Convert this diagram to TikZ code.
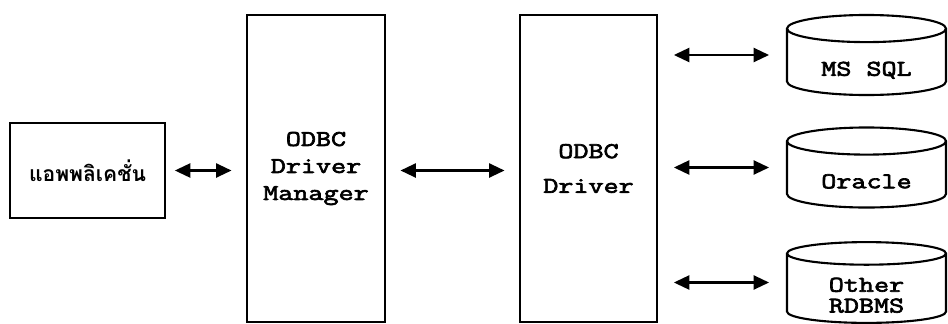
\documentclass[tikz,border=0pt]{standalone}
\usepackage{fontspec}
\newfontfamily\codefont{Latin Modern Mono}[FakeStretch=1.3,FakeBold=3]
\newfontfamily\thaifont[Script=Thai]{Loma}
\usetikzlibrary{shapes.geometric, arrows.meta, positioning}
\tikzset{
	blockbox/.style={draw, line width=2pt, align=center, inner sep=0pt,
		font=\codefont\fontsize{16}{19.2}\selectfont}
}
\tikzset{
	dbshape/.style={draw, cylinder, shape border rotate=90, aspect=0.3,
		line width=1.5pt, align=center, inner sep=0pt, anchor=shape center,
		minimum width=3.975cm, minimum height=2cm,
		font=\codefont\fontsize{16}{17.8}\selectfont}
}
\tikzset{
	link/.style={{Triangle[length=11pt,width=10pt]}-{Triangle[length=11pt,width=10pt]},
		line width=1.6pt}
}
\newcommand{\dbtext}[1]{\raisebox{-6pt}[\height][\depth]{\begin{tabular}{@{}c@{}}#1\end{tabular}}}

\begin{document}
\begin{tikzpicture}[x=0.025cm, y=-0.025cm]
  \useasboundingbox (0,0) rectangle (948,323);
  % boxes
  \node[blockbox, minimum width=3.875cm, minimum height=2.375cm,
    font=\thaifont\bfseries\fontsize{15}{18}\selectfont] (app) at (87.5,170.5) {แอพพลิเคชั่น};
  \node[blockbox, minimum width=3.45cm, minimum height=7.675cm] (mgr) at (316,168.5)
    {ODBC\\Driver\\Manager};
  \node[blockbox, minimum width=3.425cm, minimum height=7.675cm] (drv) at (588.5,168.5)
    {ODBC\\[5.5pt]Driver};
  % databases
  \node[dbshape] (mssql) at (866.5,55) {\dbtext{MS SQL}};
  \node[dbshape] (oracle) at (866.5,167.5) {\dbtext{Oracle}};
  \node[dbshape] (other) at (866.5,282.5) {\dbtext{Other\\[-3pt]RDBMS}};
  % arrows
  \draw[link, shorten <=6pt, shorten >=10pt] (app.east) -- (mgr.west |- app.east);
  \draw[link, shorten <=10pt, shorten >=10pt] (mgr.east |- app.east) -- (drv.west |- app.east);
  \foreach \db in {mssql, oracle, other}
    \draw[link, shorten <=11pt, shorten >=12pt] (drv.east |- \db.shape center) -- (\db.west |- \db.shape center);
\end{tikzpicture}
\end{document}
